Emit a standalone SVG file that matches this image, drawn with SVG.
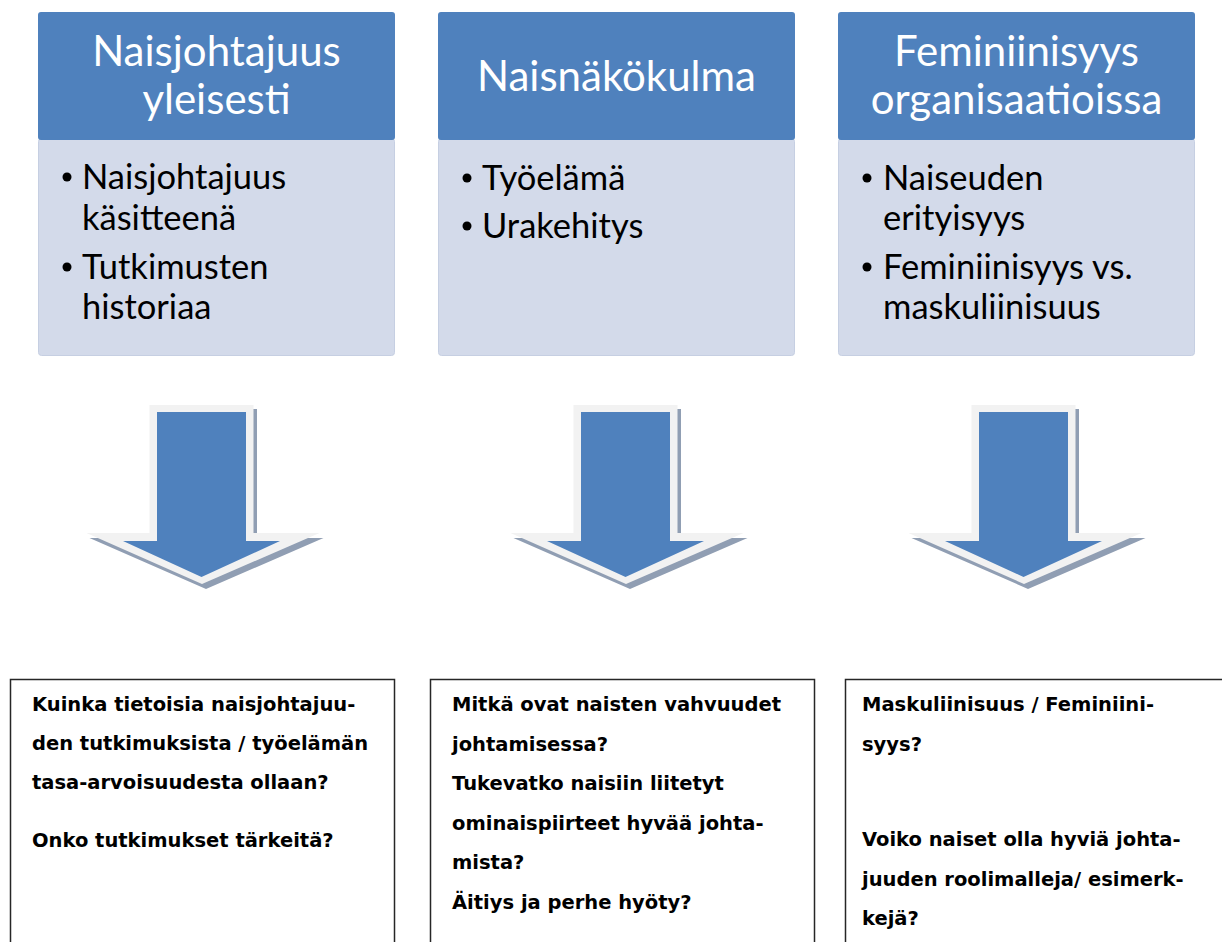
<svg xmlns="http://www.w3.org/2000/svg" width="1222" height="942" viewBox="0 0 1222 942">
<defs>
<style>
.hdr{fill:#4F81BD}
.body{fill:#D3DAEA;stroke:#C6CFE2;stroke-width:1}
.ht{font-family:Lato,"Noto Sans",sans-serif;font-size:42px;fill:#FFFFFF;text-anchor:middle}
.bt{font-family:Lato,"Noto Sans",sans-serif;font-size:34.5px;fill:#000000}
.q{fill:#FFFFFF;stroke:#262626;stroke-width:1.5}
.qt{font-family:"DejaVu Sans",Verdana,sans-serif;font-weight:bold;font-size:19.5px;fill:#000000}
.ash{fill:#909EB3}
.aout{fill:#F2F2F2}
.ain{fill:#4F81BD}
</style>
<g id="arrow">
<polygon class="ash" points="-48.5,409 55.5,409 55.5,538 122,538 4.5,589 -112,538 -48.5,538"/>
<polygon class="aout" points="-52,405 52,405 52,533 118,533 0.5,584 -115,533 -52,533"/>
<polygon class="ain" points="-44.5,412 44.5,412 44.5,541 78.5,541 0,577 -78.5,541 -44.5,541"/>
</g>
</defs>
<rect width="1222" height="942" fill="#FFFFFF"/>

<g id="col1">
<rect class="body" x="38.5" y="138.5" width="356" height="217" rx="3"/>
<rect class="hdr" x="38" y="12" width="357" height="128" rx="3"/>
<text class="ht" x="216.5" y="66">Naisjohtajuus</text>
<text class="ht" x="216.5" y="114">yleisesti</text>
<circle cx="67" cy="177" r="4.5"/>
<text class="bt" x="82" y="189">Naisjohtajuus</text>
<text class="bt" x="82" y="230">käsitteenä</text>
<circle cx="67" cy="267" r="4.5"/>
<text class="bt" x="82" y="279">Tutkimusten</text>
<text class="bt" x="82" y="319">historiaa</text>
</g>

<g id="col2">
<rect class="body" x="438.5" y="138.5" width="356" height="217" rx="3"/>
<rect class="hdr" x="438" y="12" width="357" height="128" rx="3"/>
<text class="ht" x="616.5" y="91">Naisnäkökulma</text>
<circle cx="467" cy="178" r="4.5"/>
<text class="bt" x="482" y="190">Työelämä</text>
<circle cx="467" cy="226" r="4.5"/>
<text class="bt" x="482" y="238">Urakehitys</text>
</g>

<g id="col3">
<rect class="body" x="838.5" y="138.5" width="356" height="217" rx="3"/>
<rect class="hdr" x="838" y="12" width="357" height="128" rx="3"/>
<text class="ht" x="1016.5" y="66">Feminiinisyys</text>
<text class="ht" x="1016.5" y="114">organisaatioissa</text>
<circle cx="867" cy="178" r="4.5"/>
<text class="bt" x="883" y="190">Naiseuden</text>
<text class="bt" x="883" y="230">erityisyys</text>
<circle cx="867" cy="267" r="4.5"/>
<text class="bt" x="883" y="279">Feminiinisyys vs.</text>
<text class="bt" x="883" y="319">maskuliinisuus</text>
</g>

<g id="connectors">
<use href="#arrow" transform="translate(201.5,0)"/>
<use href="#arrow" transform="translate(625.5,0)"/>
<use href="#arrow" transform="translate(1023.5,0)"/>
</g>

<g id="q1">
<rect class="q" x="10.5" y="679.5" width="384" height="280"/>
<text class="qt" x="32" y="711">Kuinka tietoisia naisjohtajuu-</text>
<text class="qt" x="32" y="750">den tutkimuksista / työelämän</text>
<text class="qt" x="32" y="789">tasa-arvoisuudesta ollaan?</text>
<text class="qt" x="32" y="847">Onko tutkimukset tärkeitä?</text>
</g>

<g id="q2">
<rect class="q" x="430.5" y="679.5" width="384" height="280"/>
<text class="qt" x="452" y="711">Mitkä ovat naisten vahvuudet</text>
<text class="qt" x="452" y="750.5">johtamisessa?</text>
<text class="qt" x="452" y="790">Tukevatko naisiin liitetyt</text>
<text class="qt" x="452" y="829.5">ominaispiirteet hyvää johta-</text>
<text class="qt" x="452" y="869">mista?</text>
<text class="qt" x="452" y="908.5">Äitiys ja perhe hyöty?</text>
</g>

<g id="q3">
<rect class="q" x="845.5" y="679.5" width="400" height="280"/>
<text class="qt" x="862" y="711">Maskuliinisuus / Feminiini-</text>
<text class="qt" x="862" y="750.5">syys?</text>
<text class="qt" x="862" y="846">Voiko naiset olla hyviä johta-</text>
<text class="qt" x="862" y="885.5">juuden roolimalleja/ esimerk-</text>
<text class="qt" x="862" y="925">kejä?</text>
</g>
</svg>
